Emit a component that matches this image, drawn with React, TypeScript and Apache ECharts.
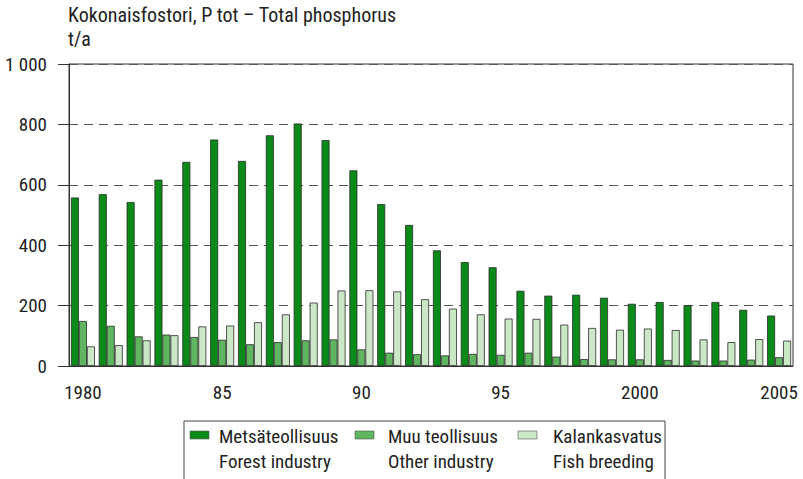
import React, { useEffect, useRef } from "react";
import * as echarts from "echarts";

const years = [
  "1980", "1981", "1982", "1983", "1984", "1985", "1986", "1987", "1988", "1989",
  "1990", "1991", "1992", "1993", "1994", "1995", "1996", "1997", "1998", "1999",
  "2000", "2001", "2002", "2003", "2004", "2005",
];
const forestIndustry = [
  558, 569, 543, 617, 676, 750, 679, 764, 803, 748,
  648, 536, 467, 383, 344, 327, 249, 233, 236, 226,
  206, 212, 201, 212, 186, 167,
];
const otherIndustry = [
  149, 133, 98, 104, 96, 87, 72, 79, 85, 88,
  55, 44, 39, 35, 40, 37, 44, 31, 23, 22,
  22, 20, 18, 18, 21, 29,
];
const fishBreeding = [
  65, 69, 85, 102, 131, 134, 145, 171, 210, 250,
  251, 247, 221, 190, 171, 157, 156, 137, 126, 120,
  124, 119, 88, 79, 89, 84,
];
const xTickLabels: Record<string, string> = {
  "1980": "1980", "1985": "85", "1990": "90", "1995": "95", "2000": "2000", "2005": "2005",
};
const yTickLabels: Record<number, string> = {
  0: "0", 200: "200", 400: "400", 600: "600", 800: "800", 1000: "1 000",
};
const titleText = "Kokonaisfostori, P tot \u2013 Total phosphorus";
const unitText = "t/a";
const legendItems = [
  { fi: "Mets\u00e4teollisuus", en: "Forest industry" },
  { fi: "Muu teollisuus", en: "Other industry" },
  { fi: "Kalankasvatus", en: "Fish breeding" },
];

const FONT = "'Roboto Condensed', 'DejaVu Sans Condensed', sans-serif";
const colors = ["#0a8a18", "#5fb560", "#cbe7c8"];

export default function App() {
  const ref = useRef<HTMLDivElement>(null);
  useEffect(() => {
    if (!ref.current) return;
    const chart = echarts.init(ref.current, undefined, { renderer: "svg" });
    const barStyle = (c: string) => ({ color: c, borderColor: "#2b2b2b", borderWidth: 0.8 });
    const swatchX = [190, 355, 518];
    const textX = [219, 388, 553];
    const graphics: any[] = [
      {
        type: "text", x: 68, y: 5,
        style: { text: titleText, font: `20px ${FONT}`, fill: "#222" },
      },
      {
        type: "text", x: 68, y: 29,
        style: { text: unitText, font: `20px ${FONT}`, fill: "#222" },
      },
      {
        type: "rect", shape: { x: 184, y: 421, width: 481, height: 70 },
        style: { fill: "none", stroke: "#444", lineWidth: 1 },
      },
    ];
    legendItems.forEach((it, i) => {
      graphics.push({
        type: "rect", shape: { x: swatchX[i], y: 431, width: 19, height: 8 },
        style: { fill: colors[i], stroke: "#555", lineWidth: 0.6 },
      });
      graphics.push({
        type: "text", x: textX[i], y: 427,
        style: { text: it.fi, font: `19px ${FONT}`, fill: "#222" },
      });
      graphics.push({
        type: "text", x: textX[i], y: 452,
        style: { text: it.en, font: `19px ${FONT}`, fill: "#222" },
      });
    });
    chart.setOption({
      animation: false,
      backgroundColor: "#fff",
      grid: {
        left: 69, right: 10, top: 64, bottom: 113,
        show: true, borderColor: "#333", borderWidth: 1, backgroundColor: "transparent",
      },
      xAxis: {
        type: "category",
        data: years,
        axisLine: { lineStyle: { color: "#333", width: 1 } },
        axisTick: { alignWithLabel: true, length: 10, interval: 0, lineStyle: { color: "#444" } },
        axisLabel: {
          interval: 0,
          margin: 17,
          fontFamily: FONT, fontSize: 19, color: "#222",
          formatter: (v: string) => xTickLabels[v] ?? "",
        },
      },
      yAxis: {
        type: "value",
        min: 0, max: 1000, interval: 200,
        axisLine: { show: true, lineStyle: { color: "#333", width: 1 } },
        axisTick: { show: true, length: 11, lineStyle: { color: "#333" } },
        axisLabel: {
          margin: 22,
          fontFamily: FONT, fontSize: 19, color: "#222",
          formatter: (v: number) => yTickLabels[v] ?? String(v),
        },
        splitLine: { show: true, lineStyle: { color: "#555", type: [9, 6], width: 1.2 } },
      },
      series: [
        { type: "bar", name: "Mets\u00e4teollisuus", data: forestIndustry, barWidth: 8, barGap: "0%", itemStyle: barStyle(colors[0]) },
        { type: "bar", name: "Muu teollisuus", data: otherIndustry, barWidth: 8, barGap: "0%", itemStyle: barStyle(colors[1]) },
        { type: "bar", name: "Kalankasvatus", data: fishBreeding, barWidth: 8, barGap: "0%", itemStyle: barStyle(colors[2]) },
      ],
      graphic: graphics,
    });
    return () => chart.dispose();
  }, []);
  return (
    <div
      ref={ref}
      style={{ position: "fixed", left: 0, top: 0, width: 803, height: 479 }}
    />
  );
}
